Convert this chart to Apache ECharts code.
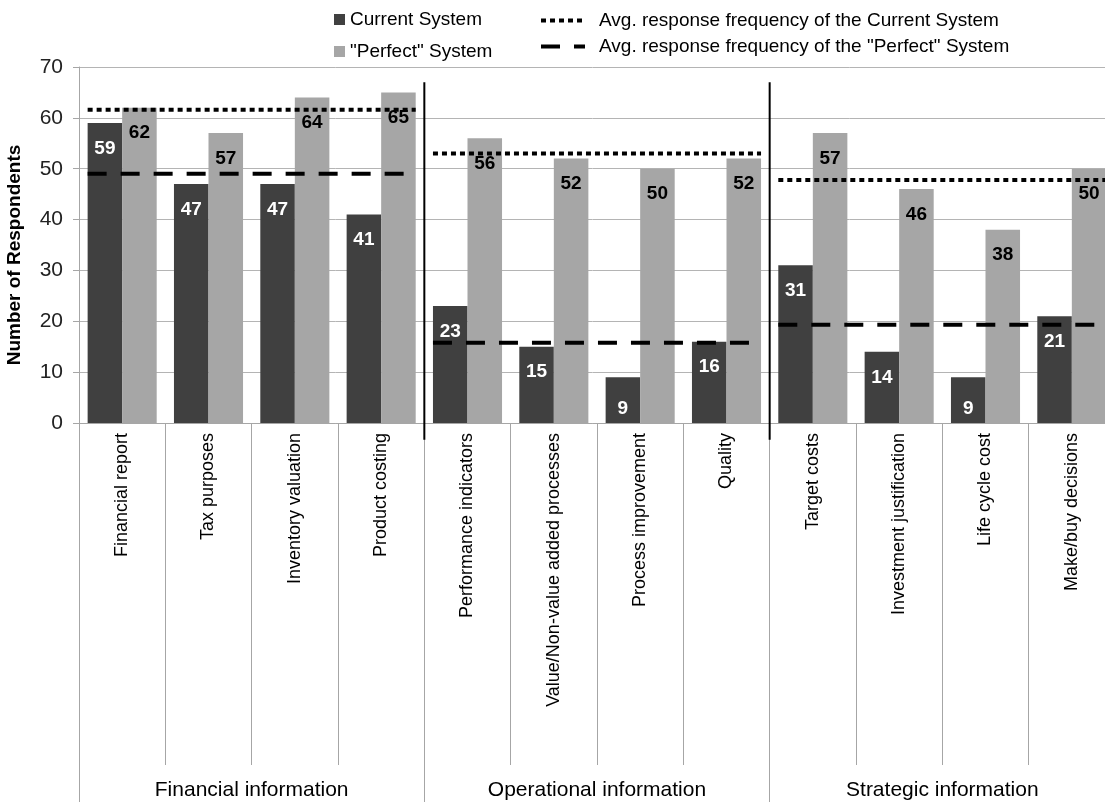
<!DOCTYPE html>
<html>
<head>
<meta charset="utf-8">
<script src="https://cdn.jsdelivr.net/npm/echarts@6/dist/echarts.min.js"></script>
<style>
html, body { margin: 0; padding: 0; background: #fff; }
#view { width: 1105px; height: 802px; }
</style>
</head>
<body>
<div id="view"></div>
<script>
var categories = ['Financial report', 'Tax purposes', 'Inventory valuation', 'Product costing',
    'Performance indicators', 'Value/Non-value added processes', 'Process improvement', 'Quality',
    'Target costs', 'Investment justification', 'Life cycle cost', 'Make/buy decisions'];
var groups = ['Financial information', 'Operational information', 'Strategic information'];
var groupSizes = [4, 4, 4];
var currentSystem = [59, 47, 47, 41, 23, 15, 9, 16, 31, 14, 9, 21];
var perfectSystem = [62, 57, 64, 65, 56, 52, 50, 52, 57, 46, 38, 50];
// averages per group, as drawn in the picture
var avgCurrentLine = [61.6, 53, 47.8];
var avgPerfectLine = [49, 15.8, 19.3];
var yMin = 0, yMax = 70, yStep = 10;

var font = "'Liberation Sans', Arial, sans-serif";
var myChart = echarts.init(document.getElementById('view'));

// one flat segment per group, from the first bar's edge to the last bar's edge
function groupLine(values) {
    var out = [], start = 0;
    groupSizes.forEach(function (n, g) {
        out.push([start + 0.1, values[g]], [start + n - 0.1, values[g]], ['-', '-']);
        start += n;
    });
    return out;
}

// short bars get their label at the bottom
function barData(values) {
    return values.map(function (v) {
        return v < 10 ? { value: v, label: { position: 'insideBottom', distance: 5 } } : v;
    });
}

// category index where each new group begins
var bounds = [], acc = 0;
groupSizes.forEach(function (n, g) {
    if (g > 0) bounds.push([acc, 0]);
    acc += n;
});

var gridBox = { left: 79, right: -10, top: 67, bottom: 379, outerBoundsMode: 'none', containLabel: false };

option = {
    animation: false,
    textStyle: { fontFamily: font },
    legend: [
        {
            data: ['Current System', '"Perfect" System'],
            orient: 'vertical',
            left: 329, top: 5, icon: 'rect',
            itemWidth: 11, itemHeight: 11, itemGap: 13,
            selectedMode: false,
            textStyle: { fontSize: 19, color: '#000', fontFamily: font }
        },
        {
            data: ['Avg. response frequency of the Current System', 'Avg. response frequency of the "Perfect" System'],
            orient: 'vertical',
            left: 534, top: 6,
            itemWidth: 44, itemHeight: 12, itemGap: 7,
            selectedMode: false,
            itemStyle: { color: 'rgba(0,0,0,0)', borderWidth: 0 },
            lineStyle: { width: 4 },
            textStyle: { fontSize: 19, color: '#000', fontFamily: font, padding: [0, 0, 0, 9] }
        }
    ],
    grid: [gridBox, gridBox],
    xAxis: [
        {
            type: 'category', gridIndex: 0, data: categories,
            axisLine: { lineStyle: { color: '#a6a6a6', width: 1 } },
            axisTick: { show: true, length: 342, interval: 0, lineStyle: { color: '#a6a6a6' } },
            axisLabel: { rotate: 90, interval: 0, margin: 10, fontSize: 18, color: '#000', fontFamily: font }
        },
        {
            type: 'category', gridIndex: 1, data: groups,
            axisLine: { show: false },
            axisTick: { show: true, length: 390, interval: 0, lineStyle: { color: '#a6a6a6' } },
            axisLabel: { interval: 0, margin: 357, fontSize: 21, color: '#000', fontFamily: font }
        },
        { type: 'value', gridIndex: 0, min: 0, max: categories.length, position: 'top', show: false }
    ],
    yAxis: [
        {
            type: 'value', gridIndex: 0, min: yMin, max: yMax, interval: yStep,
            name: 'Number of Respondents', nameLocation: 'middle', nameGap: 55,
            nameTextStyle: { fontSize: 19, fontWeight: 'bold', color: '#000', fontFamily: font, padding: [0, 20, 0, 0] },
            axisLine: { show: true, lineStyle: { color: '#a6a6a6' } },
            axisTick: { show: true, length: 6, lineStyle: { color: '#a6a6a6' } },
            axisLabel: { margin: 16, fontSize: 21, color: '#222', fontFamily: font },
            splitLine: { lineStyle: { color: '#b4b4b4', width: 1 } }
        },
        { type: 'value', gridIndex: 1, min: yMin, max: yMax, show: false, splitLine: { show: false } }
    ],
    series: [
        {
            name: 'Current System', type: 'bar', xAxisIndex: 0, yAxisIndex: 0,
            data: barData(currentSystem), barGap: '0%', barCategoryGap: '20%', z: 2,
            itemStyle: { color: '#404040' },
            label: { show: true, position: 'insideTop', distance: 16, color: '#fff', fontSize: 19, fontWeight: 'bold', fontFamily: font }
        },
        {
            name: '"Perfect" System', type: 'bar', xAxisIndex: 0, yAxisIndex: 0,
            data: barData(perfectSystem), z: 2,
            itemStyle: { color: '#a6a6a6' },
            label: { show: true, position: 'insideTop', distance: 16, color: '#000', fontSize: 19, fontWeight: 'bold', fontFamily: font }
        },
        {
            name: 'Avg. response frequency of the Current System', type: 'line',
            xAxisIndex: 2, yAxisIndex: 0, data: groupLine(avgCurrentLine),
            symbol: 'none', connectNulls: false, z: 4, silent: true,
            itemStyle: { color: 'rgba(0,0,0,0)' },
            lineStyle: { color: '#000', width: 4, type: [5, 4], cap: 'butt' }
        },
        {
            name: 'Avg. response frequency of the "Perfect" System', type: 'line',
            xAxisIndex: 2, yAxisIndex: 0, data: groupLine(avgPerfectLine),
            symbol: 'none', connectNulls: false, z: 4, silent: true,
            itemStyle: { color: 'rgba(0,0,0,0)' },
            lineStyle: { color: '#000', width: 4, type: [19, 14], cap: 'butt' }
        },
        {
            // black separators between the groups
            type: 'custom', xAxisIndex: 0, yAxisIndex: 0, data: bounds, z: 5, silent: true,
            encode: { x: 0, y: 1 },
            renderItem: function (params, api) {
                var idx = api.value(0);
                var half = api.size([1, 0])[0] / 2;
                var x = api.coord([idx, 0])[0] - half;
                var y1 = api.coord([idx, 67])[1];
                var y2 = api.coord([idx, -3.3])[1];
                return {
                    type: 'line',
                    shape: { x1: x, y1: y1, x2: x, y2: y2 },
                    style: { stroke: '#000', lineWidth: 2 }
                };
            }
        }
    ]
};

myChart.setOption(option);
</script>
</body>
</html>
